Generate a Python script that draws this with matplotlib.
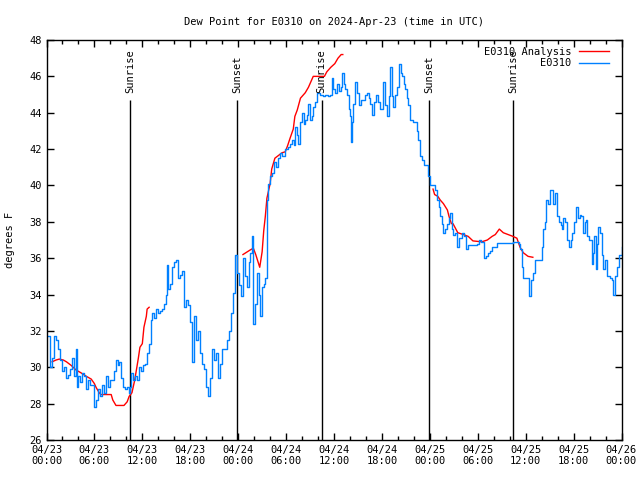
import matplotlib
matplotlib.use("Agg")
import matplotlib.pyplot as plt
from matplotlib.ticker import MultipleLocator
import numpy as np

# hours since 04/23 00:00 UTC
obs_hours = [0.2, 0.5, 0.7, 1.0, 1.2, 1.5, 1.7, 2.0, 2.2, 2.5, 2.7, 3.0, 3.2, 3.5, 3.7, 3.8, 4.0, 4.2, 4.5, 4.7,
             5.0, 5.2, 5.5, 5.7, 6.0, 6.2, 6.5, 6.7, 7.0, 7.2, 7.5, 7.7, 8.0, 8.2, 8.5, 8.7, 9.0, 9.1, 9.3, 9.6,
             9.8, 10.1, 10.3, 10.5, 10.6, 10.85, 11.1, 11.35, 11.6, 11.85, 12.1, 12.35, 12.6, 12.85, 13.1, 13.2,
             13.5, 13.7, 14.0, 14.2, 14.5, 14.7, 15.0, 15.1, 15.2, 15.5, 15.7, 16.0, 16.2, 16.5, 16.7, 17.0, 17.2,
             17.5, 17.7, 18.0, 18.25, 18.5, 18.7, 19.0, 19.2, 19.5, 19.7, 20.0, 20.2, 20.5, 20.7, 21.0, 21.2,
             21.5, 21.7, 22.0, 22.3, 22.6, 22.9, 23.1, 23.4, 23.6, 23.9, 24.1, 24.4, 24.6, 24.9, 25.1, 25.4,
             25.5, 25.7, 25.9, 26.1, 26.4, 26.6, 26.7, 27.0, 27.2, 27.4, 27.6, 27.7, 28.0, 28.2, 28.5, 28.7,
             29.0, 29.2, 29.5, 29.9, 30.2, 30.5, 30.7, 31.0, 31.1, 31.4, 31.5, 31.8, 32.0, 32.3, 32.4, 32.6,
             32.8, 33.0, 33.3, 33.4, 33.6, 33.9, 34.3, 34.6, 34.9, 35.3, 35.5, 35.8, 35.9, 36.1, 36.4, 36.6,
             36.9, 37.0, 37.3, 37.4, 37.6, 37.9, 38.0, 38.1, 38.3, 38.4, 38.6, 38.9, 39.1, 39.4, 39.6, 39.9,
             40.1, 40.4, 40.5, 40.8, 41.0, 41.3, 41.5, 41.8, 42.0, 42.1, 42.4, 42.6, 42.9, 43.0, 43.3, 43.4,
             43.6, 43.9, 44.1, 44.4, 44.5, 44.8, 44.9, 45.1, 45.3, 45.5, 45.9, 46.1, 46.4, 46.5, 46.8, 47.0,
             47.3, 47.6, 47.8, 48.0, 48.4, 48.6, 48.9, 49.2, 49.3, 49.5, 49.7, 49.9, 50.2, 50.4, 50.5, 50.8,
             50.9, 51.1, 51.4, 51.7, 52.0, 52.3, 52.5, 52.8, 53.0, 53.4, 53.9, 54.2, 54.4, 54.7, 54.8, 55.0,
             55.3, 55.5, 55.8, 56.0, 56.4, 57.7, 58.4, 58.9, 59.2, 59.3, 59.5, 59.7, 60.2, 60.4, 60.7, 60.9,
             61.2, 61.8, 62.0, 62.2, 62.4, 62.5, 62.8, 63.0, 63.1, 63.4, 63.7, 63.9, 64.2, 64.4, 64.5, 64.7,
             64.9, 65.2, 65.4, 65.7, 65.8, 66.0, 66.3, 66.5, 66.8, 66.9, 67.2, 67.4, 67.5, 67.7, 67.9, 68.1,
             68.3, 68.4, 68.6, 68.8, 68.9, 69.1, 69.3, 69.5, 69.7, 69.9, 70.2, 70.5, 70.8, 70.9, 71.2, 71.4,
             71.7, 72.0]
obs_dewpt = [31.7, 30.0, 30.5, 31.7, 31.5, 31.0, 30.4, 29.8, 30.0, 29.4, 29.6, 29.9, 30.5, 29.5, 31.0, 28.9, 29.5,
             29.2, 29.7, 29.5, 28.8, 29.3, 29.0, 29.0, 27.8, 28.2, 28.8, 28.4, 29.0, 28.6, 29.5, 28.9, 29.3, 29.3,
             29.8, 30.4, 30.1, 30.3, 29.4, 28.9, 28.8, 28.9, 28.6, 28.9, 29.7, 29.3, 29.5, 29.3, 30.0, 29.8, 30.1,
             30.2, 30.8, 31.3, 32.6, 33.0, 32.7, 33.2, 33.0, 33.1, 33.2, 33.5, 34.0, 35.6, 34.3, 34.6, 35.5, 35.8,
             35.9, 34.9, 35.1, 35.3, 33.3, 33.7, 33.4, 32.5, 30.3, 32.8, 31.5, 32.0, 30.8, 30.2, 29.9, 28.9, 28.4,
             29.4, 31.0, 30.4, 30.8, 29.4, 30.2, 31.0, 31.0, 31.5, 32.0, 33.0, 34.1, 36.2, 35.2, 34.5, 33.9, 36.0,
             35.0, 34.4, 35.8, 36.3, 37.2, 32.4, 33.5, 35.2, 34.0, 32.8, 34.4, 34.6, 34.9, 39.2, 40.1, 40.5, 40.7,
             41.3, 41.0, 41.5, 41.8, 41.6, 42.0, 42.1, 42.3, 42.5, 42.2, 43.2, 42.8, 42.3, 43.5, 44.0, 43.4, 43.6,
             43.9, 44.5, 43.6, 43.8, 44.3, 44.6, 45.1, 45.0, 44.9, 45.0, 44.9, 45.0, 45.9, 45.3, 45.1, 45.6, 45.2,
             45.4, 46.2, 45.6, 45.3, 45.0, 44.2, 43.8, 42.4, 43.5, 44.5, 45.7, 45.1, 44.4, 44.7, 44.7, 45.0, 45.1,
             44.8, 44.5, 43.9, 44.6, 45.0, 44.6, 44.2, 44.2, 45.7, 44.4, 43.8, 44.9, 46.5, 44.9, 44.3, 45.0, 45.4,
             46.7, 46.2, 46.0, 45.6, 45.3, 44.8, 44.4, 43.6, 43.5, 43.5, 43.0, 42.5, 41.6, 41.4, 41.1, 41.1, 40.5,
             40.0, 40.0, 39.75, 39.2, 38.8, 38.3, 37.9, 37.4, 37.6, 37.9, 38.2, 38.5, 37.6, 37.3, 37.4, 36.6, 37.1,
             37.4, 37.2, 36.5, 36.7, 36.7, 36.7, 36.8, 37.0, 36.9, 36.9, 36.0, 36.1, 36.3, 36.4, 36.6, 36.6, 36.85,
             36.85, 36.9, 36.9, 36.8, 36.5, 35.5, 34.9, 34.9, 33.9, 34.8, 35.2, 35.9, 35.9, 36.6, 37.6, 38.0, 39.2,
             39.0, 39.4, 39.75, 39.0, 39.6, 38.3, 38.0, 37.8, 37.6, 38.2, 38.0, 37.0, 36.6, 37.0, 37.4, 38.0, 38.8,
             38.2, 38.4, 38.3, 37.4, 38.0, 38.1, 37.2, 37.0, 37.0, 35.7, 36.3, 37.2, 35.4, 36.8, 37.7, 37.4, 36.2,
             35.4, 35.9, 35.0, 34.9, 34.8, 34.0, 35.0, 35.5, 36.2, 36.6]

# analysis series, NaN = gap
ana_hours = [0.7, 1.2, 1.6, 2.1, 2.5, 3.1, 3.7, 4.3, 5.0, 5.6, 6.0, 6.2, 6.6, 6.8, 8.1, 8.3, 8.7, 9.7, 10.1, 10.35,
             10.7, 11.0, 11.2, 11.5, 11.7, 12.0, 12.2, 12.5, 12.6, 12.85, 13.0,
             24.6, 25.5, 25.9, 26.2, 26.7, 27.0, 27.2, 27.4, 27.6, 28.0, 28.2, 28.6, 29.5, 29.9, 30.2, 30.5, 30.9,
             31.1, 31.4, 31.8, 32.4, 32.8, 33.4, 34.3, 34.8, 35.1, 35.6, 36.1, 36.5, 36.9, 37.1, 37.3,
             48.4, 48.6, 49.0, 49.3, 49.7, 50.2, 50.4, 50.7, 50.9, 51.5, 52.2, 52.8, 53.4, 54.5, 55.2, 55.8, 56.2,
             56.7, 57.2, 57.8, 58.4, 58.9, 59.3, 59.7, 60.3, 60.9]
ana_dewpt = [30.3, 30.4, 30.45, 30.4, 30.3, 30.1, 29.85, 29.7, 29.5, 29.35, 29.1, 28.9, 28.6, 28.5, 28.5, 28.2,
             27.9, 27.9, 28.1, 28.4, 28.6, 29.2, 29.7, 30.5, 31.1, 31.3, 32.2, 32.8, 33.2, 33.3, np.nan,
             36.2, 36.45, 36.55, 36.2, 35.5, 36.35, 37.5, 38.3, 39.3, 40.1, 40.9, 41.5, 41.8, 41.85, 42.2, 42.6,
             43.1, 43.8, 44.15, 44.8, 45.1, 45.4, 46.0, 46.0, 46.0, 46.25, 46.5, 46.7, 47.0, 47.2, 47.2, np.nan,
             39.8, 39.5, 39.4, 39.2, 39.0, 38.65, 38.3, 37.9, 37.9, 37.4, 37.3, 37.2, 36.95, 36.9, 37.0, 37.2, 37.3,
             37.6, 37.4, 37.3, 37.2, 37.1, 36.6, 36.3, 36.1, 36.05]

sun_hours = [10.5, 23.9, 34.45, 47.95, 58.45]
sun_labels = ["Sunrise", "Sunset", "Sunrise", "Sunset", "Sunrise"]

tick_hours = list(range(0, 73, 6))
tick_labels = ["04/23\n00:00", "04/23\n06:00", "04/23\n12:00", "04/23\n18:00",
               "04/24\n00:00", "04/24\n06:00", "04/24\n12:00", "04/24\n18:00",
               "04/25\n00:00", "04/25\n06:00", "04/25\n12:00", "04/25\n18:00",
               "04/26\n00:00"]

plt.rcParams['font.family'] = ['DejaVu Sans Mono']
plt.rcParams['font.size'] = 7.5

fig = plt.figure(figsize=(6.4, 4.8), dpi=100)
ax = fig.add_axes([46.5/640, 1 - 440/480, 575/640, 400/480])

for h, lab in zip(sun_hours, sun_labels):
    ax.vlines(h, 26, 44.7, color='black', lw=1.0)
    ax.text(h, 45.1, lab, rotation=90, ha='center', va='bottom', fontsize=7.5)

ax.plot(ana_hours, ana_dewpt, color='#ff0000', lw=1.0, label='E0310 Analysis')
ax.plot(obs_hours, obs_dewpt, color='#0080ff', lw=1.0, drawstyle='steps-post', label='E0310')

ax.set_xlim(0, 72)
ax.set_ylim(26, 48)
ax.set_xticks(tick_hours)
ax.set_xticklabels(tick_labels)
ax.xaxis.set_minor_locator(MultipleLocator(2))
ax.yaxis.set_major_locator(MultipleLocator(2))
ax.tick_params(which='both', direction='in', top=True, right=True, width=1.0)
ax.tick_params(which='major', length=5)
ax.tick_params(which='minor', length=3)
for s in ax.spines.values():
    s.set_linewidth(1.0)

ax.set_title("Dew Point for E0310 on 2024-Apr-23 (time in UTC)", fontsize=7.5, pad=11)
fig.text(10 / 640, 0.5, "degrees F", rotation=90, ha='center', va='center', fontsize=7.5)

ax.legend(loc='upper right', frameon=False, markerfirst=False, handlelength=2.9,
          fontsize=7.5, borderaxespad=0.25, labelspacing=0.15, handletextpad=0.7,
          bbox_to_anchor=(0.99, 1.0))

fig.savefig("out.png", dpi=100)
